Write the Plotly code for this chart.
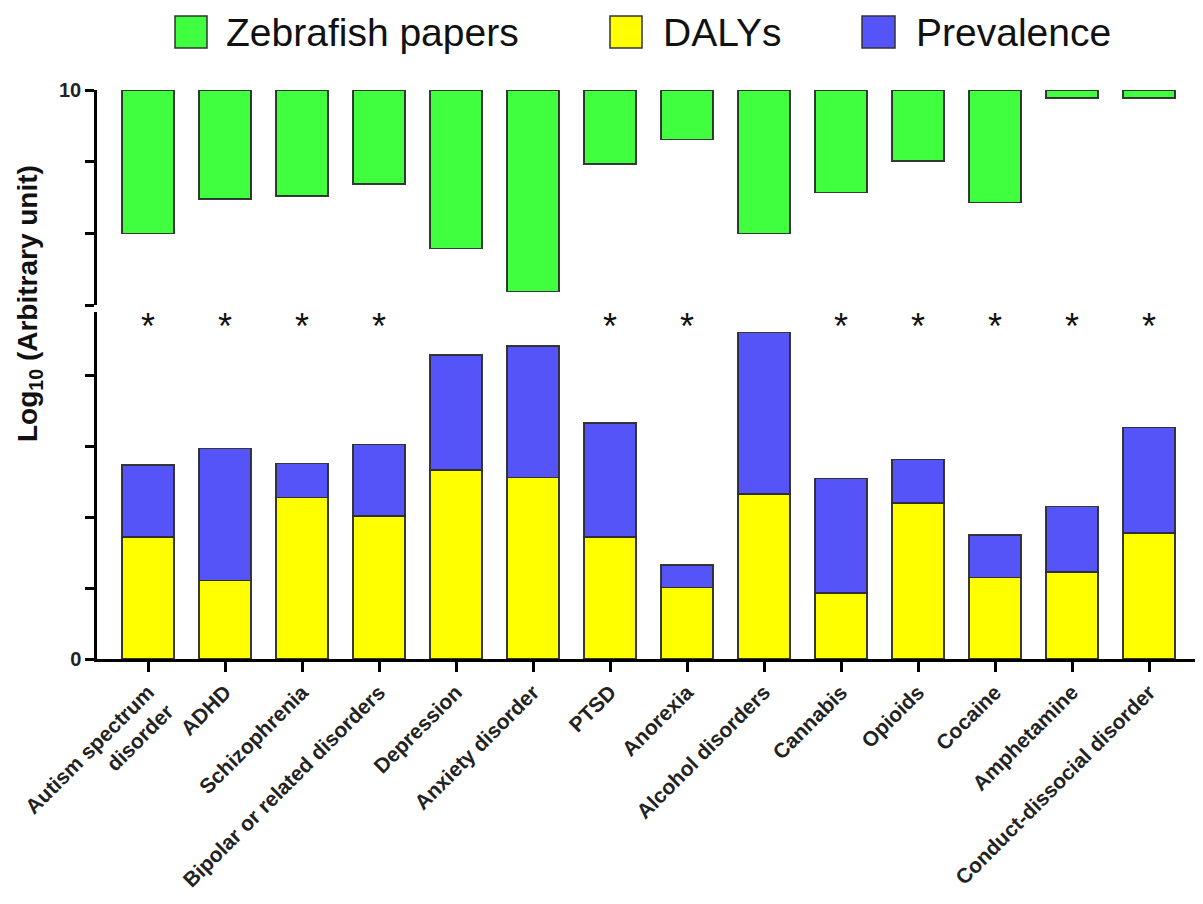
import plotly.graph_objects as go

# ---------------- data ----------------
categories = [
    "Autism spectrum<br>disorder", "ADHD", "Schizophrenia", "Bipolar or related disorders",
    "Depression", "Anxiety disorder", "PTSD", "Anorexia", "Alcohol disorders",
    "Cannabis", "Opioids", "Cocaine", "Amphetamine", "Conduct-dissocial disorder",
]
zebrafish = [8.00, 8.48, 8.52, 8.69, 7.79, 7.19, 8.97, 9.31, 8.00, 8.57, 9.01, 8.43, 9.89, 9.89]
dalys = [1.72, 1.11, 2.28, 2.02, 2.67, 2.56, 1.72, 1.01, 2.33, 0.93, 2.20, 1.15, 1.23, 1.78]
prevalence = [1.02, 1.86, 0.48, 1.01, 1.62, 1.86, 1.61, 0.32, 2.28, 1.62, 0.62, 0.60, 0.92, 1.49]
significant = [True, True, True, True, False, False, True, True, False, True, True, True, True, True]
top_ticks = [7, 8, 9, 10]
top_ticktext = ["", "", "", "10"]
bottom_ticks = [0, 1, 2, 3, 4]
bottom_ticktext = ["0", "", "", "", ""]

GREEN = "#3FFF3F"
YELLOW = "#FFFF00"
BLUE = "#5454F8"
EDGE = "rgba(45,45,45,0.95)"

# the page body has an 8px margin: size the figure so it fits the window exactly
OFF = 8
W, H = 1203 - 2 * OFF, 904 - 2 * OFF
# plot area in screen pixels
S_LEFT, S_TOP, S_BOTTOM, S_RIGHT = 97, 90, 659, 1195
ML, MT = S_LEFT - OFF, S_TOP - OFF
MR = W - (S_RIGHT - OFF)
MB = H - (S_BOTTOM - OFF)
PW = W - ML - MR
PH = H - MT - MB


def sx(px):
    """screen x pixel -> paper x"""
    return (px - S_LEFT) / PW


def sy(py):
    """screen y pixel -> paper y"""
    return (S_BOTTOM - py) / PH


fig = go.Figure()

# top panel: zebrafish papers hang down from 10
fig.add_trace(go.Bar(
    x=categories, y=[v - 10 for v in zebrafish], base=10,
    xaxis="x2", yaxis="y2", name="Zebrafish papers",
    marker=dict(color=GREEN, line=dict(color=EDGE, width=1.5)),
    showlegend=False,
))

# bottom panel: stacked DALYs + prevalence
fig.add_trace(go.Bar(
    x=categories, y=dalys, name="DALYs",
    marker=dict(color=YELLOW, line=dict(color=EDGE, width=1.5)),
    showlegend=False,
))
fig.add_trace(go.Bar(
    x=categories, y=prevalence, name="Prevalence",
    marker=dict(color=BLUE, line=dict(color=EDGE, width=1.5)),
    showlegend=False,
))

# asterisks
star_y = 4.64
fig.add_trace(go.Scatter(
    x=[c for c, s in zip(categories, significant) if s],
    y=[star_y for s in significant if s],
    mode="text", text=["*" for s in significant if s],
    textfont=dict(size=36, color="#111", family="Liberation Sans, Arial"),
    textposition="middle center", showlegend=False, cliponaxis=False,
))

x_range = [(S_LEFT - 148) / 77.0, (S_RIGHT - 148) / 77.0]

axis_common = dict(showgrid=False, zeroline=False, showline=True, linecolor="black",
                   linewidth=2.5, ticks="outside", tickcolor="black", tickwidth=2.5)

fig.update_layout(
    width=W, height=H,
    margin=dict(l=ML, r=MR, t=MT, b=MB, autoexpand=False),
    paper_bgcolor="white", plot_bgcolor="white",
    barmode="stack", bargap=0.325,
    font=dict(family="Liberation Sans, Arial", color="#111"),
    showlegend=False,
    xaxis=dict(
        type="category", range=x_range, domain=[0, 1], anchor="y",
        tickangle=-45, ticklen=10, automargin=False,
        tickfont=dict(size=21, weight="bold", color="#222"),
        **axis_common,
    ),
    xaxis2=dict(type="category", range=x_range, domain=[0, 1], anchor="y2",
                matches="x", visible=False),
    yaxis=dict(
        domain=[0, sy(312)], range=[0, 4.9], anchor="x", automargin=False,
        tickvals=bottom_ticks, ticktext=bottom_ticktext, ticklen=9,
        tickfont=dict(size=20, weight="bold", color="#222"),
        **axis_common,
    ),
    yaxis2=dict(
        domain=[sy(305), 1], range=[7, 10], anchor="x2", automargin=False,
        tickvals=top_ticks, ticktext=top_ticktext, ticklen=9,
        tickfont=dict(size=20, weight="bold", color="#222"),
        **axis_common,
    ),
)

# y-axis title
fig.add_annotation(
    text="Log<sub>10</sub> (Arbitrary unit)", textangle=-90,
    x=sx(29), y=sy(304), xref="paper", yref="paper",
    xanchor="center", yanchor="middle", showarrow=False,
    font=dict(size=28, weight="bold", color="#111"),
)

# custom legend (large swatches)
legend_items = [("Zebrafish papers", GREEN, 175, 207, 224),
                ("DALYs", YELLOW, 610, 642, 661),
                ("Prevalence", BLUE, 862, 895, 914)]
for label, col, x0, x1, xt in legend_items:
    fig.add_shape(type="rect", xref="paper", yref="paper",
                  x0=sx(x0), x1=sx(x1), y0=sy(48), y1=sy(16),
                  fillcolor=col, line=dict(color="#333", width=1.5))
    fig.add_annotation(text=label, x=sx(xt), y=sy(33), xref="paper", yref="paper",
                       xanchor="left", yanchor="middle", showarrow=False,
                       font=dict(size=39, color="#111"))

fig.write_html("out.html")
